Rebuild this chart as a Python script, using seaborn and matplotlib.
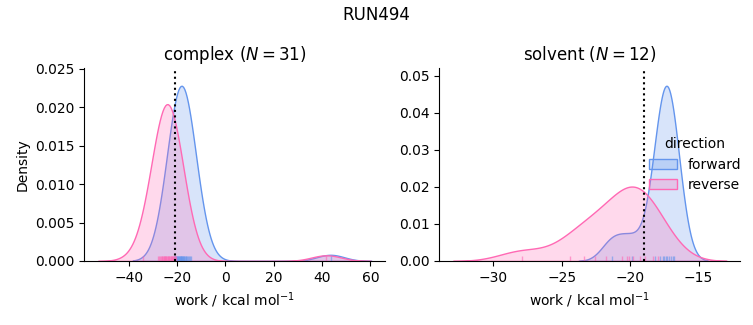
import numpy as np
import pandas as pd
import matplotlib
matplotlib.use("Agg")
import matplotlib.pyplot as plt
from matplotlib.colors import to_rgba
from matplotlib.patches import Patch
import seaborn as sns

# Work values (kcal/mol)
complex_forward = [-21.4, -21.0, -20.7, -20.5, -20.3, -20.1, -19.9, -19.7, -19.5, -19.3,
                   -19.1, -18.9, -18.7, -18.5, -18.4, -18.2, -18.0, -17.8, -17.6, -17.4,
                   -17.2, -17.0, -16.8, -16.5, -16.2, -15.9, -15.6, -15.2, -14.8, -14.3,
                   43.5]
complex_reverse = [-34.3, -28.0, -27.5, -27.1, -26.7, -26.4, -26.1, -25.8, -25.6, -25.3,
                   -25.1, -24.8, -24.6, -24.4, -24.1, -23.9, -23.7, -23.5, -23.2, -23.0,
                   -22.7, -22.5, -22.2, -22.0, -21.7, -21.5, -21.2, -21.0, -20.7, -20.5,
                   41.8]
solvent_forward = [-21.3, -19.9, -18.2, -17.8, -17.6, -17.5, -17.4, -17.3, -17.2, -17.0,
                   -16.9, -16.8]
solvent_reverse = [-27.9, -24.4, -23.4, -22.6, -21.8, -20.6, -20.25, -20.05, -19.8, -19.3,
                   -18.9, -18.3, -18.0]

# Free energy estimates (dotted lines)
complex_delta_f = -20.7
solvent_delta_f = -19.0

# Number of trajectories each phase's densities are normalised by
complex_total = 88
solvent_total = 92

COLORS = {"forward": "cornflowerblue", "reverse": "hotpink"}


# Gaussian KDE with Scott's bandwidth, like seaborn's default
def gaussian_kde(values, gridsize=200, cut=3):
    values = np.asarray(values, dtype=float)
    bw = values.std(ddof=1) * len(values) ** (-1 / 5)
    grid = np.linspace(values.min() - cut * bw, values.max() + cut * bw, gridsize)
    z = (grid[:, None] - values[None, :]) / bw
    density = np.exp(-0.5 * z ** 2).sum(axis=1) / (len(values) * bw * np.sqrt(2 * np.pi))
    return grid, density


def plot_phase(ax, forward, reverse, delta_f, total, phase):
    works = pd.concat([
        pd.DataFrame({"direction": "forward", "work": forward}),
        pd.DataFrame({"direction": "reverse", "work": reverse}),
    ], ignore_index=True)
    ymax = 0
    for direction, group in works.groupby("direction"):
        grid, density = gaussian_kde(group["work"])
        density *= len(group) / total
        ax.fill_between(grid, density, facecolor=to_rgba(COLORS[direction], 0.25),
                        edgecolor=COLORS[direction], linewidth=1)
        ymax = max(ymax, density.max())
    sns.rugplot(data=works, x="work", hue="direction", palette=COLORS, ax=ax,
                legend=False, alpha=0.6, linewidth=1)
    ax.axvline(delta_f, color="k", linestyle=":", linewidth=1.5)
    ax.set_ylim(0, ymax * 1.1)
    ax.set_title(f"{phase} $(N = {len(forward)})$")
    ax.set_xlabel("work / kcal mol$^{-1}$")
    sns.despine(ax=ax)


fig, (ax1, ax2) = plt.subplots(ncols=2, figsize=(7.53, 3.25), dpi=100)
plot_phase(ax1, complex_forward, complex_reverse, complex_delta_f, complex_total, "complex")
plot_phase(ax2, solvent_forward, solvent_reverse, solvent_delta_f, solvent_total, "solvent")
ax1.set_ylabel("Density")
ax2.set_ylabel("")

handles = [Patch(facecolor=to_rgba(c, 0.25), edgecolor=c) for c in COLORS.values()]
ax2.legend(handles, list(COLORS), title="direction", loc="center right",
           bbox_to_anchor=(1.045, 0.5), frameon=False, labelspacing=0.45)

fig.suptitle("RUN494")
fig.subplots_adjust(left=0.112, right=0.983, bottom=0.197, top=0.79, wspace=0.18)
fig.savefig("out.png")
